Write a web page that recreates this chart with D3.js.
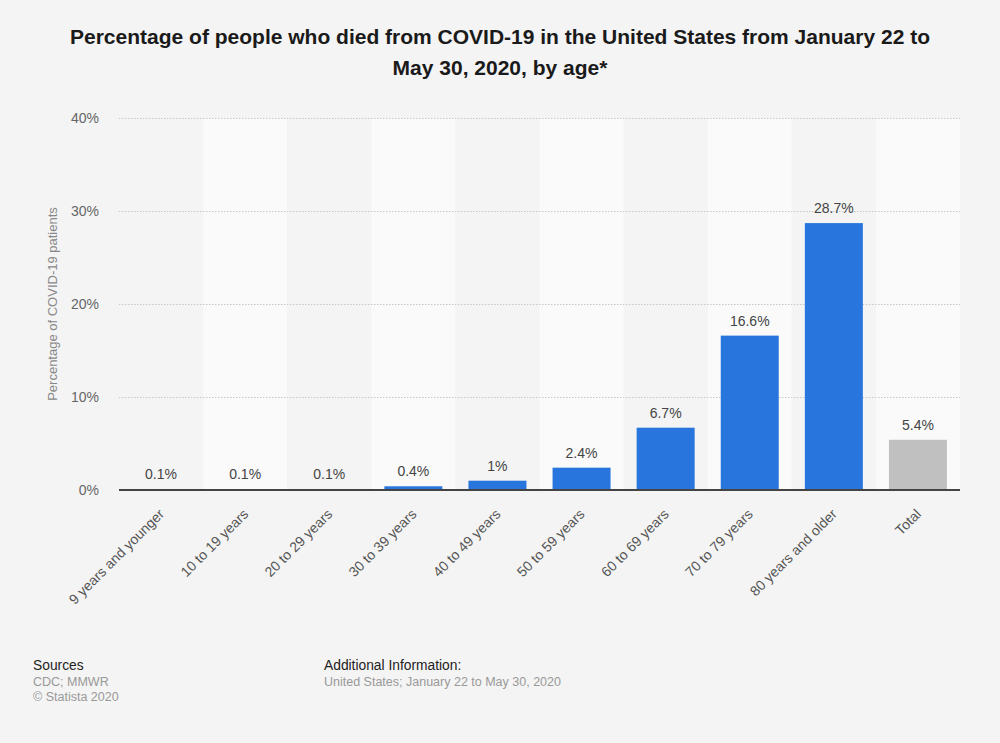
<!DOCTYPE html>
<html><head><meta charset="utf-8">
<script src="https://cdn.jsdelivr.net/npm/d3@7"></script>
<style>
html,body{margin:0;padding:0;background:#f4f4f4;}
svg{display:block;font-family:"Liberation Sans",Arial,Helvetica,sans-serif;}
</style></head>
<body>
<script>
const categories = ["9 years and younger","10 to 19 years","20 to 29 years","30 to 39 years","40 to 49 years","50 to 59 years","60 to 69 years","70 to 79 years","80 years and older","Total"];
const values = [0.1,0.1,0.1,0.4,1,2.4,6.7,16.6,28.7,5.4];
const valueLabels = ["0.1%","0.1%","0.1%","0.4%","1%","2.4%","6.7%","16.6%","28.7%","5.4%"];
const yTicks = [0,10,20,30,40];
const titleLines = ["Percentage of people who died from COVID-19 in the United States from January 22 to","May 30, 2020, by age*"];

const W=1000,H=743;
const svg=d3.select("body").append("svg").attr("width",W).attr("height",H);
svg.append("rect").attr("width",W).attr("height",H).attr("fill","#f4f4f4");

const x=d3.scaleBand().domain(categories).range([119,960]).paddingInner(0).paddingOuter(0);
const y=d3.scaleLinear().domain([0,40]).range([490,118]);

// alternating bands
svg.append("g").selectAll("rect").data(categories).join("rect")
 .attr("x",d=>x(d)).attr("y",118).attr("width",x.bandwidth()).attr("height",490-118)
 .attr("fill",(d,i)=>i%2?"#fafafa":"#f4f4f4");

// gridlines
svg.append("g").selectAll("line").data(yTicks.filter(t=>t>0)).join("line")
 .attr("x1",119).attr("x2",960).attr("y1",d=>y(d)+0.5).attr("y2",d=>y(d)+0.5)
 .attr("stroke","#c8c8c8").attr("stroke-dasharray","1.5,1.5").attr("stroke-width",1);

// y tick labels
const yAxis=d3.axisLeft(y).tickValues(yTicks).tickFormat(d=>d+"%").tickSize(0).tickPadding(20);
const ga=svg.append("g").attr("transform","translate(119,0)").call(yAxis);
ga.select(".domain").remove();
ga.selectAll("text").attr("font-size",14).attr("fill","#666").attr("font-family","Liberation Sans, Arial, sans-serif");

// y label
svg.append("text").attr("transform","translate(57,304) rotate(-90)").attr("text-anchor","middle")
 .attr("font-size",13).attr("fill","#888").text("Percentage of COVID-19 patients");

// bars
const bw=58;
svg.append("g").selectAll("rect").data(values).join("rect")
 .attr("x",(d,i)=>x(categories[i])+x.bandwidth()/2-bw/2).attr("width",bw)
 .attr("y",d=>y(d)).attr("height",d=>490-y(d))
 .attr("fill",(d,i)=>categories[i]==="Total"?"#c0c0c0":"#2876dd");

// value labels
svg.append("g").selectAll("text").data(values).join("text")
 .attr("x",(d,i)=>x(categories[i])+x.bandwidth()/2).attr("y",d=>y(d)-10)
 .attr("text-anchor","middle").attr("font-size",14).attr("fill","#444")
 .text((d,i)=>valueLabels[i]);

// baseline
svg.append("line").attr("x1",119).attr("x2",960).attr("y1",490).attr("y2",490)
 .attr("stroke","#444").attr("stroke-width",2);

// x labels
const xAxis=d3.axisBottom(x).tickSize(0).tickPadding(0);
const gx=svg.append("g").attr("transform","translate(0,490)").call(xAxis);
gx.select(".domain").remove();
gx.selectAll("text").attr("font-size",14).attr("fill","#555").attr("font-family","Liberation Sans, Arial, sans-serif")
 .attr("text-anchor","end").attr("dy",0).attr("y",0).attr("x",0)
 .attr("transform","translate(4,25) rotate(-45)");

// title
svg.append("g").selectAll("text").data(titleLines).join("text")
 .attr("x",500).attr("y",(d,i)=>44+i*31).attr("text-anchor","middle")
 .attr("font-size",21).attr("font-weight","bold").attr("fill","#1a1a1a").text(d=>d);

// footer
const f=svg.append("g").attr("font-size",12.5);
f.append("text").attr("x",33).attr("y",670).attr("fill","#222").attr("font-size",13.8).text("Sources");
f.append("text").attr("x",33).attr("y",686).attr("fill","#999").text("CDC; MMWR");
f.append("text").attr("x",33).attr("y",701).attr("fill","#999").text("© Statista 2020");
f.append("text").attr("x",324).attr("y",670).attr("fill","#222").attr("font-size",13.8).text("Additional Information:");
f.append("text").attr("x",324).attr("y",686).attr("fill","#999").text("United States; January 22 to May 30, 2020");
</script>
</body></html>
